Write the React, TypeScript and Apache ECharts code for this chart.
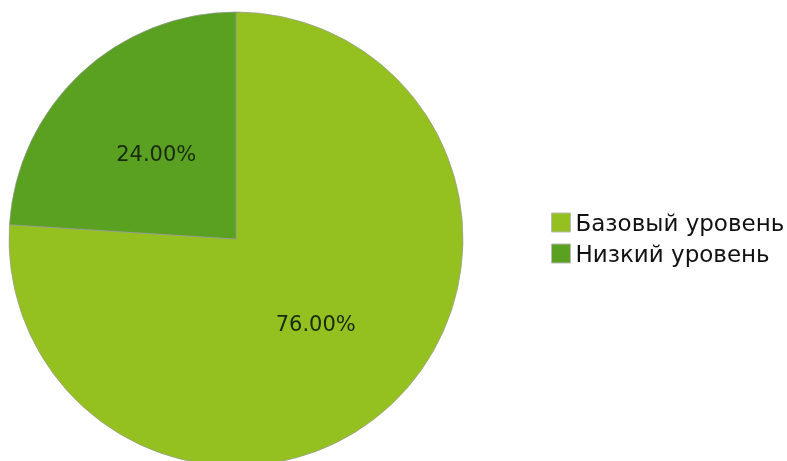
import React, { useEffect, useRef } from "react";
import * as echarts from "echarts";

const categories = ["Базовый уровень", "Низкий уровень"];
const values = [76, 24];
const colors = ["#94c11f", "#5aa021"];

export default function App() {
  const ref = useRef<HTMLDivElement>(null);
  useEffect(() => {
    document.body.style.margin = "0";
    const chart = echarts.init(ref.current!, null, { renderer: "svg" });
    chart.setOption({
      animation: false,
      color: colors,
      legend: {
        orient: "vertical",
        left: 551,
        top: 211,
        padding: 0,
        icon: "rect",
        itemWidth: 19,
        itemHeight: 19,
        itemGap: 8,
        itemTextGap: 5,
        itemStyle: { borderColor: "#bbbbbb", borderWidth: 1 },
        textStyle: { fontFamily: "DejaVu Sans", fontSize: 23, color: "#111" },
        data: categories,
      },
      series: [
        {
          type: "pie",
          center: [236, 239],
          radius: 227,
          startAngle: 90,
          clockwise: true,
          label: {
            position: "inside",
            formatter: (p: any) => p.value.toFixed(2) + "%",
            fontFamily: "DejaVu Sans",
            fontSize: 21,
            color: "#1a2a10",
          },
          labelLine: { show: false },
          itemStyle: { borderColor: "#9a9a9a", borderWidth: 0.7 },
          emphasis: { disabled: true },
          data: categories.map((c, i) => ({ name: c, value: values[i] })),
        },
      ],
    });
    return () => chart.dispose();
  }, []);
  return <div ref={ref} style={{ position: "fixed", left: 0, top: 0, width: 787, height: 461 }} />;
}
